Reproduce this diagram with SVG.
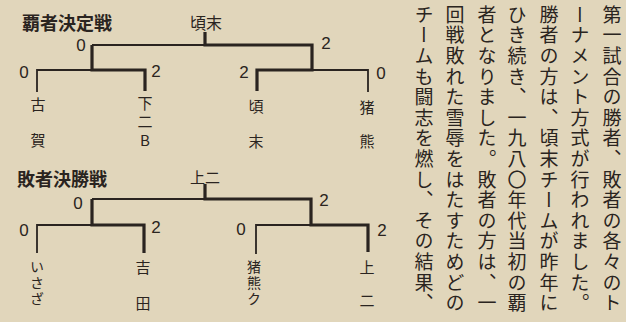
<svg xmlns="http://www.w3.org/2000/svg" width="626" height="322" viewBox="0 0 626 322">
<style>
.title{font-family:"Noto Sans CJK JP","Noto Sans",sans-serif;font-weight:700;font-size:18px;fill:#2a2420}
.lab{font-family:"Noto Sans CJK JP","Noto Sans",sans-serif;font-size:15px;fill:#2a2420;text-anchor:middle;dominant-baseline:central}
.vn{font-family:"Noto Sans CJK JP","Noto Sans",sans-serif;font-size:15px;fill:#2a2420;writing-mode:vertical-rl;text-orientation:upright}
.sm{font-size:14px}
.sc{font-family:"Liberation Sans",sans-serif;font-size:17px;fill:#2a2420;text-anchor:middle;dominant-baseline:central}
.col{font-family:"Noto Sans CJK JP",sans-serif;font-size:19px;fill:#2a2420;writing-mode:vertical-rl;letter-spacing:1.6px}
.thin{fill:none;stroke:#2a2420;stroke-width:1.8}
.thick{fill:none;stroke:#2a2420;stroke-width:3.2}
</style>
<rect width="626" height="322" fill="#e1d6bb"/>
<g id="connectors">
<path class="thin" d="M92,45 H205 M37,92 V70 H92 M312,70 H368 V92"/>
<path class="thick" d="M205,32 V45 H312 V70 H257 V91 M92,45 V70 H145 V91"/>
<path class="thin" d="M92,199 H205 M37,253 V225 H92 M256,254 V225 H311"/>
<path class="thick" d="M205,184 V199 H311 V225 H368 V252 M92,199 V225 H144 V253"/>
</g>
<g id="title-top"><text class="title" x="22" y="30">覇者決定戦</text></g>
<g id="title-bottom"><text class="title" x="17" y="186">敗者決勝戦</text></g>
<g id="winner-top"><text class="lab" x="206" y="22" style="font-size:16px">頃末</text></g>
<g id="winner-bottom"><text class="lab" x="205" y="176">上二</text></g>
<g id="team-koga"><text class="vn" x="38" y="96.5" style="letter-spacing:21px">古賀</text></g>
<g id="team-shimoni-b"><text class="vn" x="145" y="95.5" style="letter-spacing:3.5px">下二B</text></g>
<g id="team-korosue"><text class="vn" x="256" y="98.5" style="letter-spacing:20px">頃末</text></g>
<g id="team-inokuma"><text class="vn" x="367" y="99.5" style="letter-spacing:19px">猪熊</text></g>
<g id="team-isaza"><text class="vn sm" x="37" y="260" style="letter-spacing:2px">いさざ</text></g>
<g id="team-yoshida"><text class="lab"><tspan x="143" y="266">吉</tspan><tspan x="143" y="302">田</tspan></text></g>
<g id="team-inokuma-k"><text class="vn sm" x="254" y="260" style="letter-spacing:2px">猪熊ク</text></g>
<g id="team-kamini"><text class="lab"><tspan x="367" y="266">上</tspan><tspan x="367" y="299">二</tspan></text></g>
<g id="scores">
<text class="sc" x="81" y="45">0</text>
<text class="sc" x="24" y="72">0</text>
<text class="sc" x="156" y="71">2</text>
<text class="sc" x="326" y="43">2</text>
<text class="sc" x="244" y="72">2</text>
<text class="sc" x="381" y="73">0</text>
<text class="sc" x="78" y="203">0</text>
<text class="sc" x="24" y="230">0</text>
<text class="sc" x="156" y="227">2</text>
<text class="sc" x="324" y="200">2</text>
<text class="sc" x="241" y="229">0</text>
<text class="sc" x="382" y="230">2</text>
</g>
<g id="body-text">
<text class="col" x="612" y="5">第一試合の勝者、敗者の各々のト</text>
<text class="col" x="580" y="5">ーナメント方式が行われました。</text>
<text class="col" x="549" y="5">勝者の方は、頃末チームが昨年に</text>
<text class="col" x="517" y="5">ひき続き、一九八〇年代当初の覇</text>
<text class="col" x="487" y="5">者となりました。敗者の方は、一</text>
<text class="col" x="455" y="5">回戦敗れた雪辱をはたすためどの</text>
<text class="col" x="424" y="5">チームも闘志を燃し、その結果、</text>
</g>
</svg>
